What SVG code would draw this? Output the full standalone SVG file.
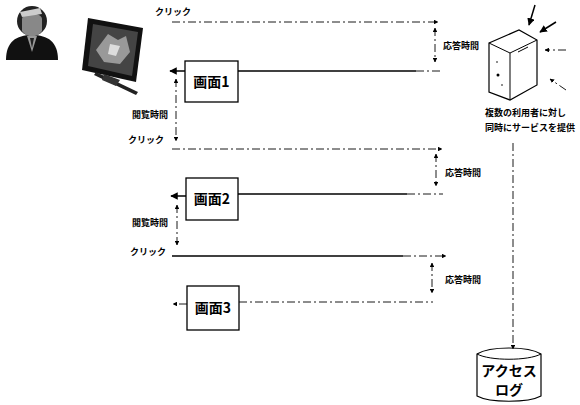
<svg xmlns="http://www.w3.org/2000/svg" width="580" height="405" viewBox="0 0 580 405">
  <style>
    .lbl { font-family: "Noto Sans CJK JP", "Liberation Sans", sans-serif; font-weight: bold; font-size: 9px; fill: #000; }
    .box { fill: #fff; stroke: #000; stroke-width: 1.3; }
    .boxtxt { font-family: "Noto Sans CJK JP", "Liberation Sans", sans-serif; font-weight: bold; font-size: 14px; fill: #000; text-anchor: middle; }
    .dash { fill: none; stroke: #000; stroke-width: 0.9; stroke-dasharray: 8 3 2 3; }
    .solid { fill: none; stroke: #000; stroke-width: 1.5; }
    .thin { fill: none; stroke: #000; stroke-width: 1; }
  </style>
  <defs>
    <marker id="ah" viewBox="0 0 10 10" refX="9" refY="5" markerWidth="5" markerHeight="5" orient="auto-start-reverse">
      <path d="M0,0 L10,5 L0,10 z" fill="#000"/>
    </marker>
  </defs>
  <rect width="580" height="405" fill="#fff"/>

  <!-- user -->
  <g id="user">
    <path d="M6,60 C6,42 16,35 32,35 C48,35 58,42 58,60 Z" fill="#111"/>
    <circle cx="32" cy="21" r="15" fill="#222"/>
    <path d="M22,19 C22,12 42,12 42,19 L42,31 C38,38 26,38 22,31 Z" fill="#888"/>
    <path d="M20,12 L40,8 L42,14 L22,17 Z" fill="#ccc"/>
    <path d="M27,36 L32,52 L37,36 Z" fill="#999"/>
    <path d="M30,38 L32,48 L34,38 Z" fill="#222"/>
  </g>

  <!-- client terminal -->
  <g id="terminal">
    <path d="M88,18 L143,28 L136,82 L82,70 Z" fill="#111"/>
    <path d="M93,24 L138,32 L132,76 L88,66 Z" fill="#444"/>
    <path d="M96,50 L108,34 L118,40 L126,36 L130,52 L120,64 L104,62 Z" fill="#999"/>
    <path d="M110,44 L120,46 L116,56 L108,54 Z" fill="#ddd"/>
    <path d="M96,72 L138,92 L136,95 L94,75 Z" fill="#222"/>
    <path d="M104,74 L120,80 L116,86 L102,80 Z" fill="#333"/>
  </g>

  <!-- screen nodes -->
  <g id="screen1">
    <rect class="box" x="185" y="61" width="53" height="41"/>
    <text class="boxtxt" x="211.5" y="87">画面1</text>
  </g>
  <g id="screen2">
    <rect class="box" x="186" y="178" width="52" height="42"/>
    <text class="boxtxt" x="212" y="204">画面2</text>
  </g>
  <g id="screen3">
    <rect class="box" x="187" y="286" width="52" height="44"/>
    <text class="boxtxt" x="213" y="313">画面3</text>
  </g>

  <!-- server -->
  <g id="server">
    <path d="M489,43 L519,30 L537,40 L537,85 L510,100 L489,92 Z" fill="#fff" stroke="#000" stroke-width="1.2"/>
    <path d="M489,43 L510,53 L537,40 M510,53 L510,100" class="thin"/>
    <path d="M518,52 L528,47" class="thin"/>
    <circle cx="498" cy="75" r="1.5" fill="#000"/>
    <circle cx="497" cy="62" r="0.8" fill="#000"/>
    <circle cx="502" cy="85" r="0.8" fill="#000"/>
    <text class="lbl" x="485" y="116">複数の利用者に対し</text>
    <text class="lbl" x="485" y="131">同時にサービスを提供</text>
  </g>

  <!-- access log store -->
  <g id="accesslog">
    <path d="M477,354 C490,346 528,346 541,354 L541,396 C528,403 490,403 477,396 Z" fill="#fff" stroke="#000" stroke-width="1.2"/>
    <path d="M477,354 C490,361 528,361 541,354" class="thin"/>
    <text class="boxtxt" x="509" y="376" font-size="13">アクセス</text>
    <text class="boxtxt" x="509" y="395" font-size="13">ログ</text>
  </g>

  <!-- labels -->
  <g id="labels">
    <text class="lbl" x="155" y="15">クリック</text>
    <text class="lbl" x="443" y="49">応答時間</text>
    <text class="lbl" x="132" y="118">閲覧時間</text>
    <text class="lbl" x="128" y="143">クリック</text>
    <text class="lbl" x="445" y="176">応答時間</text>
    <text class="lbl" x="132" y="226">閲覧時間</text>
    <text class="lbl" x="130" y="255">クリック</text>
    <text class="lbl" x="445" y="283">応答時間</text>
  </g>

  <!-- connectors -->
  <g id="connectors">
    <!-- round 1 -->
    <path class="dash" d="M172,22 H438" marker-end="url(#ah)"/>
    <path class="dash" d="M435,28 V62" marker-start="url(#ah)" marker-end="url(#ah)"/>
    <path class="solid" d="M238,71 H416"/>
    <path class="dash" d="M416,71 H442"/>
    <path class="solid" d="M185,71 H170" marker-end="url(#ah)"/>
    <path class="dash" d="M176,79 V141" marker-start="url(#ah)" marker-end="url(#ah)"/>
    <!-- round 2 -->
    <path class="dash" d="M172,149 H442" marker-end="url(#ah)"/>
    <path class="dash" d="M436,154 V186" marker-start="url(#ah)" marker-end="url(#ah)"/>
    <path class="solid" d="M238,194 H407"/>
    <path class="dash" d="M407,194 H443"/>
    <path class="solid" d="M186,196 H171" marker-end="url(#ah)"/>
    <path class="dash" d="M177,205 V245" marker-start="url(#ah)" marker-end="url(#ah)"/>
    <!-- round 3 -->
    <path class="solid" d="M172,256 H403"/>
    <path class="dash" d="M403,256 H446" marker-end="url(#ah)"/>
    <path class="dash" d="M432,263 V293" marker-start="url(#ah)" marker-end="url(#ah)"/>
    <path class="dash" d="M239,302 H433"/>
    <path class="dash" d="M187,304 H173" marker-end="url(#ah)"/>
    <!-- requests arriving at the server -->
    <path class="solid" d="M535,5 L529,25" marker-end="url(#ah)" stroke-width="1.8"/>
    <path class="solid" d="M556,22 L540,32" marker-end="url(#ah)" stroke-width="1.8"/>
    <path class="dash" d="M566,50 H545" marker-end="url(#ah)"/>
    <path class="dash" d="M566,90 L550,79" marker-end="url(#ah)"/>
    <!-- server to access log -->
    <path class="dash" d="M513,143 V349" marker-end="url(#ah)"/>
  </g>
</svg>
